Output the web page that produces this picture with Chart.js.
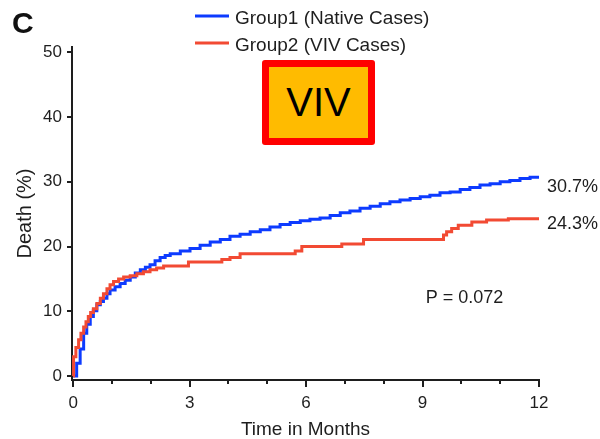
<!DOCTYPE html>
<html>
<head>
<meta charset="utf-8">
<script src="https://cdn.jsdelivr.net/npm/chart.js@4.4.1/dist/chart.umd.min.js"></script>
<style>
  html, body { margin: 0; padding: 0; background: #fff; }
  #wrap { position: relative; width: 600px; height: 439px; }
  #panel { position: absolute; left: 12px; top: 8px; font: bold 30px "Liberation Sans", Arial, sans-serif; line-height: 30px; color: #111; }
  #viv { position: absolute; left: 262px; top: 60px; width: 99px; height: 71px; border: 7px solid #ff0000; border-radius: 3px; background: #ffbb00; font: 40px "Liberation Sans", Arial, sans-serif; line-height: 71px; text-align: center; color: #000; }
</style>
</head>
<body>
<div id="wrap">
  <canvas id="chart" width="600" height="439"></canvas>
  <div id="panel">C</div>
  <div id="viv">VIV</div>
</div>
<script>
const FONT = '"Liberation Sans", Arial, sans-serif';
const INK = '#1e1e1e';

// Group 1 (native) cumulative death (%)
const nativeMonths = [0, 0.09, 0.18, 0.27, 0.35, 0.44, 0.52, 0.61, 0.7, 0.78, 0.87, 0.95, 1.08, 1.21, 1.34, 1.47, 1.6, 1.73, 1.86, 1.98, 2.11, 2.24, 2.37, 2.5, 2.76, 3.01, 3.27, 3.53, 3.79, 4.04, 4.3, 4.56, 4.82, 5.07, 5.33, 5.59, 5.85, 6.1, 6.36, 6.62, 6.88, 7.13, 7.39, 7.65, 7.91, 8.16, 8.42, 8.68, 8.94, 9.19, 9.45, 9.71, 9.97, 10.22, 10.48, 10.74, 11.0, 11.25, 11.51, 11.77, 12];
const nativeDeath  = [0, 2.0, 4.2, 6.6, 8.0, 9.2, 10.1, 11.0, 11.5, 12.0, 12.7, 13.3, 13.8, 14.3, 14.8, 15.3, 15.9, 16.4, 16.8, 17.2, 17.8, 18.3, 18.6, 18.9, 19.3, 19.7, 20.2, 20.7, 21.1, 21.6, 21.9, 22.3, 22.6, 23.0, 23.4, 23.7, 24.0, 24.2, 24.4, 24.8, 25.2, 25.5, 25.9, 26.2, 26.6, 26.9, 27.2, 27.4, 27.7, 27.9, 28.3, 28.4, 28.8, 29.1, 29.5, 29.7, 30.0, 30.2, 30.5, 30.7, 30.7];

// Group 2 (VIV)
const vivMonths = [0, 0.01, 0.07, 0.14, 0.2, 0.27, 0.33, 0.39, 0.45, 0.52, 0.61, 0.7, 0.78, 0.87, 0.95, 1.04, 1.17, 1.3, 1.47, 1.64, 1.81, 1.98, 2.15, 2.33, 2.97, 3.83, 4.04, 4.3, 5.72, 5.89, 6.92, 7.48, 9.54, 9.62, 9.75, 9.92, 10.27, 10.65, 11.21, 12];
const vivDeath  = [0, 3.0, 4.4, 5.6, 6.6, 7.6, 8.4, 9.2, 9.8, 10.4, 11.2, 12.0, 12.7, 13.5, 14.1, 14.6, 15.0, 15.3, 15.5, 15.8, 16.1, 16.4, 16.7, 17.0, 17.6, 18.0, 18.3, 18.9, 19.3, 20.0, 20.4, 21.1, 21.8, 22.3, 22.8, 23.3, 23.8, 24.1, 24.3, 24.3];

const seriesNames = ['Group1 (Native Cases)', 'Group2 (VIV Cases)'];
const endLabels = ['30.7%', '24.3%'];
const pText = 'P = 0.072';

const xTicks = [0, 3, 6, 9, 12];
const xMinorTicks = [1, 2, 4, 5, 7, 8, 10, 11];
const yTicks = [0, 10, 20, 30, 40, 50];

const toPoints = (xs, ys) => xs.map((x, i) => ({ x: x, y: ys[i] }));

// legend, end labels, p-value and minor ticks
const extras = {
  id: 'extras',
  afterDraw(chart) {
    const ctx = chart.ctx;
    const xs = chart.scales.x;
    const ys = chart.scales.y;
    ctx.save();

    // minor ticks on the time axis
    ctx.strokeStyle = INK;
    ctx.lineWidth = 2;
    xMinorTicks.forEach(m => {
      const px = Math.round(xs.getPixelForValue(m));
      ctx.beginPath();
      ctx.moveTo(px, chart.chartArea.bottom);
      ctx.lineTo(px, chart.chartArea.bottom + 4);
      ctx.stroke();
    });

    // legend
    ctx.font = '19px ' + FONT;
    ctx.fillStyle = INK;
    ctx.textBaseline = 'alphabetic';
    ctx.textAlign = 'left';
    chart.data.datasets.forEach((ds, i) => {
      const ly = 16 + i * 27;
      ctx.strokeStyle = ds.borderColor;
      ctx.lineWidth = 3;
      ctx.beginPath();
      ctx.moveTo(195, ly);
      ctx.lineTo(229, ly);
      ctx.stroke();
      ctx.fillText(ds.label, 235, ly + 8);
    });

    // end-of-curve percentages
    ctx.font = '18px ' + FONT;
    const offsets = [15, 10];
    chart.data.datasets.forEach((ds, i) => {
      const last = ds.data[ds.data.length - 1];
      ctx.fillText(endLabels[i], xs.getPixelForValue(last.x) + 8, ys.getPixelForValue(last.y) + offsets[i]);
    });

    // p value
    ctx.textAlign = 'center';
    ctx.fillText(pText, xs.getPixelForValue(10.08), ys.getPixelForValue(12.2) + 6);
    ctx.restore();
  }
};

new Chart(document.getElementById('chart'), {
  type: 'line',
  data: {
    datasets: [
      {
        label: seriesNames[0],
        data: toPoints(nativeMonths, nativeDeath),
        borderColor: '#0d3bff',
        borderWidth: 3,
        stepped: 'before',
        pointRadius: 0,
        fill: false,
        order: 1
      },
      {
        label: seriesNames[1],
        data: toPoints(vivMonths, vivDeath),
        borderColor: '#f24a33',
        borderWidth: 3,
        stepped: 'before',
        pointRadius: 0,
        fill: false,
        order: 0
      }
    ]
  },
  options: {
    responsive: false,
    animation: false,
    layout: { padding: { top: 47, right: 61, bottom: 0, left: 0 } },
    plugins: { legend: { display: false }, tooltip: { enabled: false } },
    scales: {
      x: {
        type: 'linear',
        min: -0.03,
        max: 12,
        afterBuildTicks: s => { s.ticks = xTicks.map(v => ({ value: v })); },
        afterFit: s => { s.height = 59; },
        grid: { drawOnChartArea: false, drawTicks: true, tickLength: 7, lineWidth: 2, color: INK },
        border: { display: true, color: INK, width: 2 },
        ticks: { color: INK, font: { size: 17, family: FONT }, padding: 6, maxRotation: 0, autoSkip: false },
        title: { display: true, text: 'Time in Months', color: INK, font: { size: 19, family: FONT, lineHeight: 1 }, padding: { top: 0, bottom: 0 } }
      },
      y: {
        min: -0.6,
        max: 50.8,
        afterBuildTicks: s => { s.ticks = yTicks.map(v => ({ value: v })); },
        afterFit: s => { s.width = 72; },
        grid: { drawOnChartArea: false, drawTicks: true, tickLength: 5, lineWidth: 2, color: INK },
        border: { display: true, color: INK, width: 2 },
        ticks: { color: INK, font: { size: 17, family: FONT }, padding: 5 },
        title: { display: true, text: 'Death (%)', color: INK, font: { size: 20, family: FONT }, padding: { top: 13, bottom: 0 } }
      }
    }
  },
  plugins: [extras]
});
</script>
</body>
</html>
